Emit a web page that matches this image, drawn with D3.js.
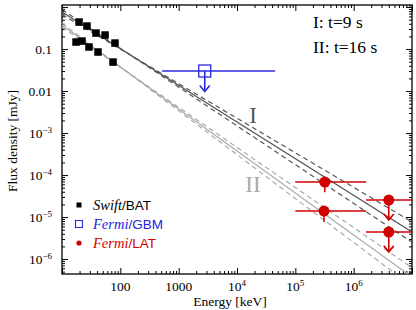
<!DOCTYPE html>
<html>
<head>
<meta charset="utf-8">
<script src="https://cdn.jsdelivr.net/npm/d3@7"></script>
<style>
  body { margin: 0; background: #fff; }
  text { font-family: "Liberation Serif", "DejaVu Serif", serif; }
</style>
</head>
<body>
<div id="chart"></div>
<script>
// Swift/BAT points, two epochs (I: t=9 s, II: t=16 s)
const batEnergyI = [19.6, 26.8, 38.3, 54.7, 81];
const batFluxI = [0.44, 0.353, 0.24, 0.216, 0.139];
const batEnergyII = [17.4, 22, 29, 41.4, 75];
const batFluxII = [0.147, 0.155, 0.112, 0.085, 0.049];

// Fermi/GBM upper limit
const gbmEnergy = [2800];
const gbmLow = [520];
const gbmHigh = [45000];
const gbmFlux = [0.03];
const gbmArrowTo = [0.0098];

// Fermi/LAT points (last two are upper limits)
const latEnergy = [3.2e5, 3.1e5, 4.0e6, 4.0e6];
const latLow = [1e5, 1e5, 1.63e6, 1.63e6];
const latHigh = [1.63e6, 1.63e6, 1.2e7, 1.2e7];
const latFlux = [6.8e-5, 1.39e-5, 2.54e-5, 4.4e-6];
const latFluxHi = [8.9e-5, 1.83e-5, 2.54e-5, 4.4e-6];
const latFluxLo = [3.9e-5, 7.6e-6, 8.5e-6, 1.48e-6];
const latUpper = [false, false, true, true];

// power-law models, normalised at 10 keV
const modelNames = ["I", "II"];
const modelNorm = [0.76, 0.373];
const modelIndex = [0.873, 1.0];
const modelIndexErr = [0.05, 0.045];
const modelPivot = [150, 120];
const modelColor = ["#555", "#aaa"];

const xMajor = [10, 100, 1000, 1e4, 1e5, 1e6, 1e7];
const xTickValues = [100, 1000, 1e4, 1e5, 1e6];
const xTickLabels = [["100", ""], ["1000", ""], ["10", "4"], ["10", "5"], ["10", "6"]];
const yMajor = [1e-6, 1e-5, 1e-4, 1e-3, 0.01, 0.1, 1];
const yTickValues = [0.1, 0.01, 1e-3, 1e-4, 1e-5, 1e-6];
const yTickLabels = [["0.1", ""], ["0.01", ""], ["10", "\u22123"], ["10", "\u22124"], ["10", "\u22125"], ["10", "\u22126"]];

const legendNames = [["Swift", "/BAT"], ["Fermi", "/GBM"], ["Fermi", "/LAT"]];
const legendColors = ["#000", "#2424e0", "#d00000"];

const width = 416, height = 310;
const margin = { top: 5, right: 4, bottom: 36, left: 62 };
const blue = "#2a2ae0", red = "#d00000";

const svg = d3.select("#chart").append("svg")
  .attr("width", width).attr("height", height);

const x = d3.scaleLog().domain([10, 1e7]).range([margin.left, width - margin.right]);
const y = d3.scaleLog().domain([4.4e-7, 1.12]).range([height - margin.bottom, margin.top]);

const minors = (majors) => {
  const out = [];
  majors.forEach(m => { for (let k = 2; k <= 9; k++) out.push(m * k); });
  return out;
};
const xMinor = minors(xMajor).filter(v => v < 1e7);
const yMinor = minors([1e-7, 1e-6, 1e-5, 1e-4, 1e-3, 0.01, 0.1]).filter(v => v > 4.4e-7 && v < 1.12);

// ticks on all four sides, pointing inward
function ticks(axisFn, pos, vals, size) {
  const g = svg.append("g")
    .attr("transform", pos)
    .call(axisFn.tickValues(vals).tickSize(-size).tickFormat(""));
  g.select(".domain").remove();
  g.selectAll("line").attr("stroke", "#000").attr("stroke-width", 1);
}
const x0 = margin.left, x1 = width - margin.right, y0 = height - margin.bottom, y1 = margin.top;
ticks(d3.axisBottom(x), `translate(0,${y0})`, xMajor, 6);
ticks(d3.axisBottom(x), `translate(0,${y0})`, xMinor, 3);
ticks(d3.axisTop(x), `translate(0,${y1})`, xMajor, 6);
ticks(d3.axisTop(x), `translate(0,${y1})`, xMinor, 3);
ticks(d3.axisLeft(y), `translate(${x0},0)`, yMajor, 6);
ticks(d3.axisLeft(y), `translate(${x0},0)`, yMinor, 3);
ticks(d3.axisRight(y), `translate(${x1},0)`, yMajor, 6);
ticks(d3.axisRight(y), `translate(${x1},0)`, yMinor, 3);

svg.append("rect")
  .attr("x", x0).attr("y", y1).attr("width", x1 - x0).attr("height", y0 - y1)
  .attr("fill", "none").attr("stroke", "#000").attr("stroke-width", 1.3);

// tick labels with superscripts
function addLabel(sel, parts) {
  sel.append("tspan").text(parts[0]);
  if (parts[1]) sel.append("tspan").attr("dy", -5).attr("font-size", 9).text(parts[1]);
}
xTickValues.forEach((v, i) => {
  const t = svg.append("text").attr("x", x(v)).attr("y", y0 + 17)
    .attr("text-anchor", "middle").attr("font-size", 13.5);
  addLabel(t, xTickLabels[i]);
});
yTickValues.forEach((v, i) => {
  const t = svg.append("text").attr("x", x0 - 10).attr("y", y(v) + 4.5)
    .attr("text-anchor", "end").attr("font-size", 13.5);
  addLabel(t, yTickLabels[i]);
});

svg.append("text").attr("x", 230).attr("y", 306).attr("text-anchor", "middle")
  .attr("font-size", 13.5).text("Energy [keV]");
svg.append("text").attr("transform", "translate(17,141) rotate(-90)")
  .attr("text-anchor", "middle").attr("font-size", 13.5).text("Flux density [mJy]");

// clipped plot area
svg.append("clipPath").attr("id", "clip").append("rect")
  .attr("x", x0).attr("y", y1).attr("width", x1 - x0).attr("height", y0 - y1);
const plot = svg.append("g").attr("clip-path", "url(#clip)");

const line = d3.line().x(d => x(d[0])).y(d => y(d[1]));
const eRange = x.domain();
modelNames.forEach((name, i) => {
  const piv = modelPivot[i];
  const fp = modelNorm[i] * Math.pow(piv / 10, -modelIndex[i]);
  const mk = idx => eRange.map(e => [e, fp * Math.pow(e / piv, -idx)]);
  plot.append("path").attr("d", line(mk(modelIndex[i])))
    .attr("fill", "none").attr("stroke", modelColor[i]).attr("stroke-width", 1.2);
  [-1, 1].forEach(s => {
    plot.append("path").attr("d", line(mk(modelIndex[i] + s * modelIndexErr[i])))
      .attr("fill", "none").attr("stroke", modelColor[i]).attr("stroke-width", 1.2)
      .attr("stroke-dasharray", "5,3.5");
  });
});

svg.append("text").attr("x", 253).attr("y", 123).attr("text-anchor", "middle")
  .attr("font-size", 23).attr("fill", "#555").text("I");
svg.append("text").attr("x", 253).attr("y", 192).attr("text-anchor", "middle")
  .attr("font-size", 23).attr("fill", "#aaa").text("II");

svg.append("text").attr("x", 313).attr("y", 28).attr("font-size", 17.5).text("I: t=9 s");
svg.append("text").attr("x", 313).attr("y", 53).attr("font-size", 17.5).text("II: t=16 s");

// Swift/BAT squares
const sq = 7.5;
[[batEnergyI, batFluxI], [batEnergyII, batFluxII]].forEach(([es, fs]) => {
  plot.selectAll(null).data(es.map((e, i) => [e, fs[i]])).join("rect")
    .attr("x", d => x(d[0]) - sq / 2).attr("y", d => y(d[1]) - sq / 2)
    .attr("width", sq).attr("height", sq).attr("fill", "#000");
});

// arrow helper (chevron)
function arrow(g, cx, ya, yb, color, w) {
  g.append("line").attr("x1", cx).attr("x2", cx).attr("y1", ya).attr("y2", yb)
    .attr("stroke", color).attr("stroke-width", w);
  g.append("path").attr("d", `M${cx - 5},${yb - 6}L${cx},${yb}L${cx + 5},${yb - 6}`)
    .attr("fill", "none").attr("stroke", color).attr("stroke-width", w);
}

// Fermi/GBM
gbmEnergy.forEach((e, i) => {
  plot.append("line").attr("x1", x(gbmLow[i])).attr("x2", x(gbmHigh[i]))
    .attr("y1", y(gbmFlux[i])).attr("y2", y(gbmFlux[i]))
    .attr("stroke", blue).attr("stroke-width", 1.4);
  arrow(plot, x(e), y(gbmFlux[i]), y(gbmArrowTo[i]), blue, 1.6);
  plot.append("rect").attr("x", x(e) - 6).attr("y", y(gbmFlux[i]) - 6)
    .attr("width", 12).attr("height", 12).attr("fill", "none")
    .attr("stroke", blue).attr("stroke-width", 1.3);
});

// Fermi/LAT
latEnergy.forEach((e, i) => {
  plot.append("line").attr("x1", x(latLow[i])).attr("x2", x(latHigh[i]))
    .attr("y1", y(latFlux[i])).attr("y2", y(latFlux[i]))
    .attr("stroke", red).attr("stroke-width", 1.5);
  if (latUpper[i]) {
    arrow(plot, x(e), y(latFlux[i]), y(latFluxLo[i]), red, 1.6);
  } else {
    plot.append("line").attr("x1", x(e)).attr("x2", x(e))
      .attr("y1", y(latFluxHi[i])).attr("y2", y(latFluxLo[i]))
      .attr("stroke", red).attr("stroke-width", 1.5);
  }
  plot.append("circle").attr("cx", x(e)).attr("cy", y(latFlux[i]))
    .attr("r", 5.5).attr("fill", red);
});

// legend
const lg = svg.append("g");
legendNames.forEach((n, i) => {
  const ly = 205 + i * 19;
  if (i === 0) lg.append("rect").attr("x", 76.5).attr("y", ly - 2.5).attr("width", 5).attr("height", 5).attr("fill", "#000");
  if (i === 1) lg.append("rect").attr("x", 75.5).attr("y", ly - 3.5).attr("width", 7).attr("height", 7).attr("fill", "none").attr("stroke", blue).attr("stroke-width", 1.1);
  if (i === 2) lg.append("circle").attr("cx", 79).attr("cy", ly).attr("r", 2.6).attr("fill", red);
  const t = lg.append("text").attr("x", 93).attr("y", ly + 5).attr("font-size", 14.5).attr("fill", legendColors[i]);
  t.append("tspan").attr("font-style", "italic").text(n[0]);
  t.append("tspan").attr("font-family", "Liberation Sans, Arial, sans-serif").attr("font-size", 13.5).text(n[1]);
});
</script>
</body>
</html>
